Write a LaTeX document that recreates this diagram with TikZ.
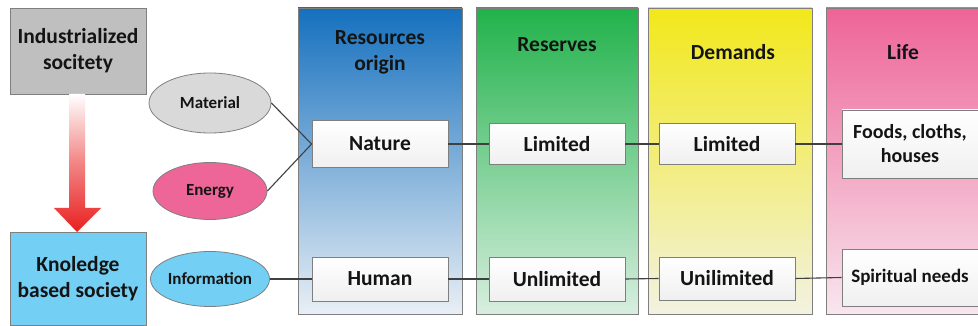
\documentclass[tikz,border=0pt]{standalone}
\usepackage{fontspec}
\setmainfont{Carlito}
\usetikzlibrary{shapes.geometric}
\definecolor{bordergray}{HTML}{7F7F7F}
\definecolor{linegray}{HTML}{404040}
\definecolor{indgray}{HTML}{BFBFBF}
\definecolor{skyblue}{HTML}{74CFF4}
\definecolor{matgray}{HTML}{D9D9D9}
\definecolor{pinkE}{HTML}{EE6597}
\definecolor{blueT}{HTML}{1570BE}
\definecolor{blueM}{HTML}{7FB2DE}
\definecolor{blueB}{HTML}{E9EFF5}
\definecolor{greenT}{HTML}{21B24B}
\definecolor{greenM}{HTML}{7CCB9A}
\definecolor{greenB}{HTML}{D8EEDF}
\definecolor{yellowT}{HTML}{F2E81A}
\definecolor{yellowM}{HTML}{F0EC80}
\definecolor{yellowB}{HTML}{F2F2E2}
\definecolor{pinkT}{HTML}{EE6496}
\definecolor{pinkM}{HTML}{F3A0BE}
\definecolor{pinkB}{HTML}{F8E6EE}
\definecolor{arrowred}{HTML}{E8201F}
\definecolor{txt}{HTML}{141414}
\tikzset{
  lbl/.style={font=\bfseries\fontsize{21.5}{26}\selectfont, text=txt, align=center},
  small/.style={font=\bfseries\fontsize{17}{20}\selectfont, text=txt, align=center},
  column/.style={draw=bordergray, line width=0.8pt, minimum height=306pt, inner sep=0pt},
  whitebox/.style={lbl, draw=bordergray, line width=0.8pt, top color=white, bottom color=gray!12, minimum width=136pt, inner sep=0pt},
  society/.style={lbl, draw=bordergray, line width=0.8pt, minimum width=136pt, inner sep=0pt},
  oval/.style={small, ellipse, draw=bordergray, line width=0.8pt, inner sep=0pt},
  conn/.style={draw=linegray, line width=1.1pt}
}
\begin{document}
\begin{tikzpicture}[x=1pt,y=-1pt]
\clip (0,0) rectangle (978,326);
\fill[white] (0,0) rectangle (978,326);
% columns
\node[column, minimum width=164pt, top color=blueT, middle color=blueM, bottom color=blueB] (colA) at (380,161) {};
\node[column, minimum width=162pt, top color=greenT, middle color=greenM, bottom color=greenB] (colB) at (557,161) {};
\node[column, minimum width=164pt, top color=yellowT, middle color=yellowM, bottom color=yellowB] (colC) at (730,161) {};
\node[column, minimum width=170pt, top color=pinkT, middle color=pinkM, bottom color=pinkB] (colD) at (911,161) {};
% titles
\node[lbl, font=\bfseries\fontsize{21.5}{26}\selectfont] (tA) at (380,52) {Resources\\origin};
\node[lbl] (tB) at (557,45) {Reserves};
\node[lbl] (tC) at (733,52) {Demands};
\node[lbl] (tD) at (903,52) {Life};
% society boxes
\node[society, fill=indgray, minimum height=86pt] (ind) at (78,51) {Industrialized\\socitety};
\node[society, fill=skyblue, minimum height=93pt] (kno) at (78,278.5) {Knoledge\\based society};
% arrow
\shade[top color=white, bottom color=arrowred, middle color=arrowred!55]
  (69,94) -- (85,94) -- (85,208) -- (101,208) -- (77,232) -- (54,208) -- (69,208) -- cycle;
% ellipses
\node[oval, fill=matgray, minimum width=122pt, minimum height=60pt] (mat) at (210,103) {Material};
\node[oval, fill=pinkE, minimum width=114pt, minimum height=57pt] (ene) at (210,191) {Energy};
\node[oval, fill=skyblue, minimum width=111pt, minimum height=55pt] (inf) at (210,279) {Information};
% white boxes
\node[whitebox, minimum height=47pt] (nat) at (380,144) {Nature};
\node[whitebox, minimum height=44pt] (hum) at (380,279) {Human};
\node[whitebox, minimum height=41pt] (lim1) at (557,144) {Limited};
\node[whitebox, minimum height=44pt] (unl1) at (557,279) {Unlimited};
\node[whitebox, minimum height=41pt] (lim2) at (727,144) {Limited};
\node[whitebox, minimum height=43pt] (unl2) at (727,278.5) {Unilimited};
\node[whitebox, minimum height=68pt, font=\bfseries\fontsize{20}{24}\selectfont] (food) at (910,144) {Foods, cloths,\\houses};
\node[whitebox, minimum height=57pt, font=\bfseries\fontsize{19}{22}\selectfont] (spi) at (910,277.5) {Spiritual needs};
% connectors
\draw[conn] (mat.east) -- (nat.west);
\draw[conn] (ene.east) -- (nat.west);
\draw[conn] (nat.east) -- (lim1.west);
\draw[conn] (lim1.east) -- (lim2.west);
\draw[conn] (lim2.east) -- (food.west);
\draw[conn] (inf.east) -- (hum.west);
\draw[conn] (hum.east) -- (unl1.west);
\draw[conn] (unl1.east) -- (unl2.west);
\draw[conn] (unl2.east) -- (spi.west);
\end{tikzpicture}
\end{document}
